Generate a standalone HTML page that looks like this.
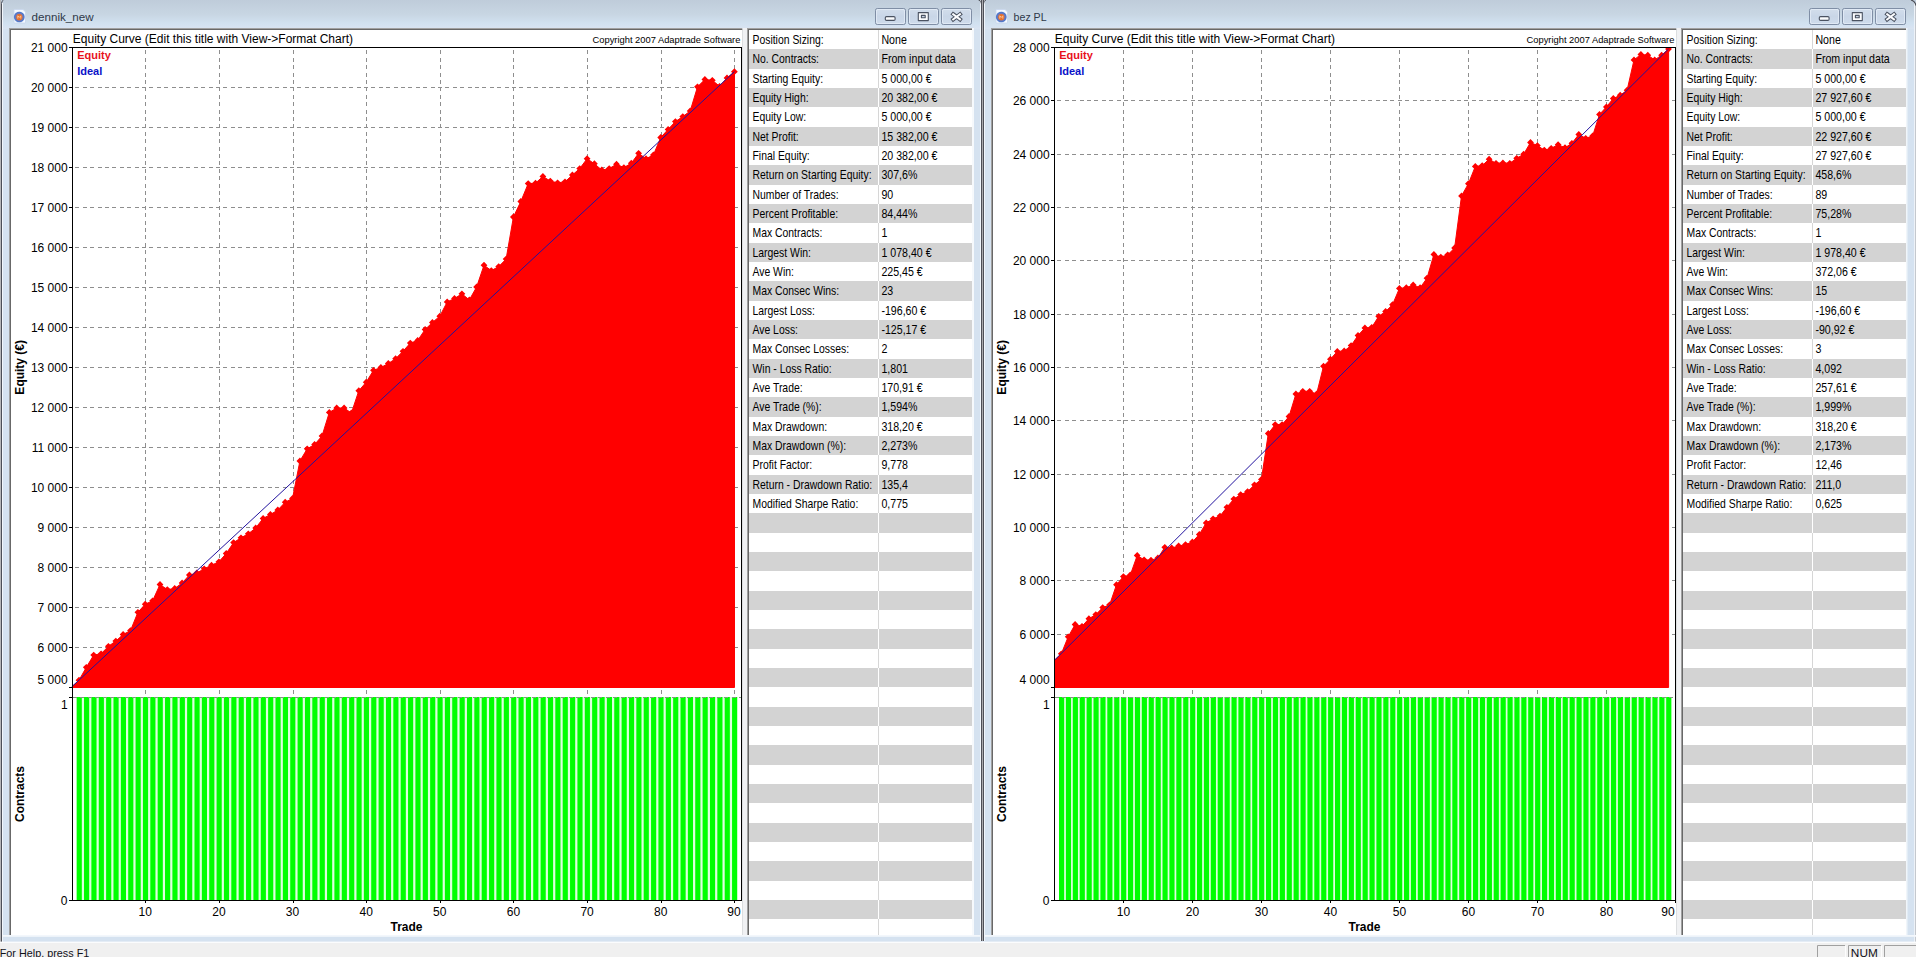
<!DOCTYPE html><html><head><meta charset="utf-8"><title>Equity Curve</title><style>
html,body{margin:0;padding:0;background:#d4e1f0;overflow:hidden}
svg{display:block}
text{font-family:"Liberation Sans",Arial,sans-serif;fill:#000}
.ttl{font-size:11.6px;fill:#2e3848}
.tb text{font-size:12px;fill:#000}
.ct{font-size:12px}.cp{font-size:9.33px}.ax text{font-size:12px}.bd{font-size:12px;font-weight:bold}.lg{font-size:11px;font-weight:bold}
.st{font-size:11.1px;fill:#101018}
</style></head><body>
<svg width="1916" height="957" viewBox="0 0 1916 957">
<defs><linearGradient id="tb" x1="0" y1="0" x2="0" y2="1"><stop offset="0" stop-color="#bfccda"/><stop offset="0.5" stop-color="#c8d6e3"/><stop offset="0.8" stop-color="#d1e1f0"/><stop offset="1" stop-color="#d9e4f2"/></linearGradient><linearGradient id="btn" x1="0" y1="0" x2="0" y2="1"><stop offset="0" stop-color="#d3deec"/><stop offset="0.5" stop-color="#c9d6e7"/><stop offset="1" stop-color="#cfdcec"/></linearGradient><radialGradient id="icg" cx="0.5" cy="0.5" r="0.5"><stop offset="0.5" stop-color="#7a78b8"/><stop offset="0.85" stop-color="#4f78c8"/><stop offset="1" stop-color="#9fb8e8"/></radialGradient></defs>
<rect x="0" y="0" width="1916" height="957" fill="#d5e2f0"/>
<rect x="0" y="0" width="1916" height="29" fill="url(#tb)"/>
<rect x="0" y="0" width="1" height="943" fill="#b6b6b8"/>
<path d="M1.5 943V3.5Q1.5 1 3.5 0" stroke="#4c4f58" stroke-width="1" fill="none"/>
<rect x="2" y="3" width="1" height="939" fill="#f2f6fb"/>
<rect x="980" y="0" width="1" height="941" fill="#f0f5fb"/>
<rect x="981" y="0" width="1" height="941" fill="#4e5058"/>
<rect x="982" y="0" width="1" height="941" fill="#a8a8ac"/>
<rect x="983" y="0" width="1" height="941" fill="#4e5058"/>
<rect x="984" y="0" width="1" height="941" fill="#f0f5fb"/>
<path d="M978.5 0Q981.5 0.5 981.5 4M986 0Q983.5 0.5 983.5 4" stroke="#4e5058" stroke-width="1" fill="none"/>
<rect x="1914" y="3" width="1" height="939" fill="#edf2f8"/><rect x="1915" y="4" width="1" height="938" fill="#c4c8ce"/>
<path d="M1911 0Q1915 1.2 1916 5.5" stroke="#4e5058" stroke-width="1.3" fill="none"/>
<g transform="translate(13,9)"><path d="M1 0.5h9l2.5 2.5v11h-11.5z" fill="#f4f9ff" stroke="#c8d6ec" stroke-width="0.8"/><circle cx="6.3" cy="8" r="5.6" fill="url(#icg)"/><circle cx="6.3" cy="8.2" r="3.1" fill="#e8702a"/><path d="M4.8 9.6v-2.8l1.5 1.6 1.5-1.6v2.8" fill="none" stroke="#f9c9a0" stroke-width="0.9"/></g>
<text x="31.6" y="21" class="ttl" textLength="62" lengthAdjust="spacingAndGlyphs">dennik_new</text>
<rect x="875.5" y="8.5" width="30" height="16" rx="1.8" fill="url(#btn)" stroke="#7f8ea5" stroke-width="1"/>
<rect x="876.5" y="9.5" width="28" height="14" rx="1.5" fill="none" stroke="#e6eef8" stroke-opacity="0.75" stroke-width="1"/>
<rect x="908.5" y="8.5" width="30" height="16" rx="1.8" fill="url(#btn)" stroke="#7f8ea5" stroke-width="1"/>
<rect x="909.5" y="9.5" width="28" height="14" rx="1.5" fill="none" stroke="#e6eef8" stroke-opacity="0.75" stroke-width="1"/>
<rect x="941.5" y="8.5" width="30" height="16" rx="1.8" fill="url(#btn)" stroke="#7f8ea5" stroke-width="1"/>
<rect x="942.5" y="9.5" width="28" height="14" rx="1.5" fill="none" stroke="#e6eef8" stroke-opacity="0.75" stroke-width="1"/>
<rect x="885.3" y="16.6" width="9.8" height="3.8" rx="1.2" fill="#fbfcfe" stroke="#4a5261" stroke-width="1.1"/>
<path d="M918.3 12.6h10v8h-10z M921.4 15.4v2.4h3.8v-2.4z" fill="#fbfcfe" fill-rule="evenodd" stroke="#4a5261" stroke-width="1.1" stroke-linejoin="round"/>
<path d="M953.2 14.200000000000001L960.0 19.400000000000002M960.0 14.200000000000001L953.2 19.400000000000002" stroke="#4a5261" stroke-width="4" stroke-linecap="square" fill="none"/>
<path d="M953.2 14.200000000000001L960.0 19.400000000000002M960.0 14.200000000000001L953.2 19.400000000000002" stroke="#fbfcfe" stroke-width="2" stroke-linecap="square" fill="none"/>
<rect x="9" y="28" width="733.5" height="907" fill="#a0a0a0"/>
<rect x="10" y="29" width="732.5" height="906" fill="#686868"/>
<rect x="11" y="30" width="731.5" height="905" fill="#fff"/>
<rect x="742.5" y="28" width="4.5" height="907" fill="#f0f1f3"/>
<rect x="747" y="28" width="225" height="907" fill="#a0a0a0"/>
<rect x="748" y="29" width="224" height="906" fill="#686868"/>
<rect x="749" y="30" width="223" height="905" fill="#fff"/>
<rect x="972" y="28" width="2" height="908" fill="#f6f9fc"/>
<rect x="749" y="49" width="223" height="20" fill="#d3d3d3"/>
<rect x="749" y="88" width="223" height="19" fill="#d3d3d3"/>
<rect x="749" y="127" width="223" height="19" fill="#d3d3d3"/>
<rect x="749" y="165" width="223" height="20" fill="#d3d3d3"/>
<rect x="749" y="204" width="223" height="19" fill="#d3d3d3"/>
<rect x="749" y="243" width="223" height="19" fill="#d3d3d3"/>
<rect x="749" y="281" width="223" height="20" fill="#d3d3d3"/>
<rect x="749" y="320" width="223" height="19" fill="#d3d3d3"/>
<rect x="749" y="359" width="223" height="19" fill="#d3d3d3"/>
<rect x="749" y="397" width="223" height="20" fill="#d3d3d3"/>
<rect x="749" y="436" width="223" height="19" fill="#d3d3d3"/>
<rect x="749" y="475" width="223" height="19" fill="#d3d3d3"/>
<rect x="749" y="513" width="223" height="20" fill="#d3d3d3"/>
<rect x="749" y="552" width="223" height="19" fill="#d3d3d3"/>
<rect x="749" y="591" width="223" height="19" fill="#d3d3d3"/>
<rect x="749" y="629" width="223" height="20" fill="#d3d3d3"/>
<rect x="749" y="668" width="223" height="19" fill="#d3d3d3"/>
<rect x="749" y="707" width="223" height="19" fill="#d3d3d3"/>
<rect x="749" y="745" width="223" height="20" fill="#d3d3d3"/>
<rect x="749" y="784" width="223" height="19" fill="#d3d3d3"/>
<rect x="749" y="823" width="223" height="19" fill="#d3d3d3"/>
<rect x="749" y="861" width="223" height="20" fill="#d3d3d3"/>
<rect x="749" y="900" width="223" height="19" fill="#d3d3d3"/>
<rect x="878" y="30" width="1" height="905" fill="#d6d6d6"/>
<rect x="878" y="49" width="1" height="20" fill="#ffffff"/>
<rect x="878" y="88" width="1" height="19" fill="#ffffff"/>
<rect x="878" y="127" width="1" height="19" fill="#ffffff"/>
<rect x="878" y="165" width="1" height="20" fill="#ffffff"/>
<rect x="878" y="204" width="1" height="19" fill="#ffffff"/>
<rect x="878" y="243" width="1" height="19" fill="#ffffff"/>
<rect x="878" y="281" width="1" height="20" fill="#ffffff"/>
<rect x="878" y="320" width="1" height="19" fill="#ffffff"/>
<rect x="878" y="359" width="1" height="19" fill="#ffffff"/>
<rect x="878" y="397" width="1" height="20" fill="#ffffff"/>
<rect x="878" y="436" width="1" height="19" fill="#ffffff"/>
<rect x="878" y="475" width="1" height="19" fill="#ffffff"/>
<rect x="878" y="513" width="1" height="20" fill="#ffffff"/>
<rect x="878" y="552" width="1" height="19" fill="#ffffff"/>
<rect x="878" y="591" width="1" height="19" fill="#ffffff"/>
<rect x="878" y="629" width="1" height="20" fill="#ffffff"/>
<rect x="878" y="668" width="1" height="19" fill="#ffffff"/>
<rect x="878" y="707" width="1" height="19" fill="#ffffff"/>
<rect x="878" y="745" width="1" height="20" fill="#ffffff"/>
<rect x="878" y="784" width="1" height="19" fill="#ffffff"/>
<rect x="878" y="823" width="1" height="19" fill="#ffffff"/>
<rect x="878" y="861" width="1" height="20" fill="#ffffff"/>
<rect x="878" y="900" width="1" height="19" fill="#ffffff"/>
<g class="tb">
<text transform="translate(752.5,44.0) scale(0.868,1)">Position Sizing:</text>
<text transform="translate(881.4,44.0) scale(0.885,1)">None</text>
<text transform="translate(752.5,63.3) scale(0.868,1)">No. Contracts:</text>
<text transform="translate(881.4,63.3) scale(0.885,1)">From input data</text>
<text transform="translate(752.5,82.7) scale(0.868,1)">Starting Equity:</text>
<text transform="translate(881.4,82.7) scale(0.885,1)">5 000,00 €</text>
<text transform="translate(752.5,102.0) scale(0.868,1)">Equity High:</text>
<text transform="translate(881.4,102.0) scale(0.885,1)">20 382,00 €</text>
<text transform="translate(752.5,121.3) scale(0.868,1)">Equity Low:</text>
<text transform="translate(881.4,121.3) scale(0.885,1)">5 000,00 €</text>
<text transform="translate(752.5,140.7) scale(0.868,1)">Net Profit:</text>
<text transform="translate(881.4,140.7) scale(0.885,1)">15 382,00 €</text>
<text transform="translate(752.5,160.0) scale(0.868,1)">Final Equity:</text>
<text transform="translate(881.4,160.0) scale(0.885,1)">20 382,00 €</text>
<text transform="translate(752.5,179.3) scale(0.868,1)">Return on Starting Equity:</text>
<text transform="translate(881.4,179.3) scale(0.885,1)">307,6%</text>
<text transform="translate(752.5,198.7) scale(0.868,1)">Number of Trades:</text>
<text transform="translate(881.4,198.7) scale(0.885,1)">90</text>
<text transform="translate(752.5,218.0) scale(0.868,1)">Percent Profitable:</text>
<text transform="translate(881.4,218.0) scale(0.885,1)">84,44%</text>
<text transform="translate(752.5,237.3) scale(0.868,1)">Max Contracts:</text>
<text transform="translate(881.4,237.3) scale(0.885,1)">1</text>
<text transform="translate(752.5,256.7) scale(0.868,1)">Largest Win:</text>
<text transform="translate(881.4,256.7) scale(0.885,1)">1 078,40 €</text>
<text transform="translate(752.5,276.0) scale(0.868,1)">Ave Win:</text>
<text transform="translate(881.4,276.0) scale(0.885,1)">225,45 €</text>
<text transform="translate(752.5,295.3) scale(0.868,1)">Max Consec Wins:</text>
<text transform="translate(881.4,295.3) scale(0.885,1)">23</text>
<text transform="translate(752.5,314.7) scale(0.868,1)">Largest Loss:</text>
<text transform="translate(881.4,314.7) scale(0.885,1)">-196,60 €</text>
<text transform="translate(752.5,334.0) scale(0.868,1)">Ave Loss:</text>
<text transform="translate(881.4,334.0) scale(0.885,1)">-125,17 €</text>
<text transform="translate(752.5,353.3) scale(0.868,1)">Max Consec Losses:</text>
<text transform="translate(881.4,353.3) scale(0.885,1)">2</text>
<text transform="translate(752.5,372.7) scale(0.868,1)">Win - Loss Ratio:</text>
<text transform="translate(881.4,372.7) scale(0.885,1)">1,801</text>
<text transform="translate(752.5,392.0) scale(0.868,1)">Ave Trade:</text>
<text transform="translate(881.4,392.0) scale(0.885,1)">170,91 €</text>
<text transform="translate(752.5,411.3) scale(0.868,1)">Ave Trade (%):</text>
<text transform="translate(881.4,411.3) scale(0.885,1)">1,594%</text>
<text transform="translate(752.5,430.7) scale(0.868,1)">Max Drawdown:</text>
<text transform="translate(881.4,430.7) scale(0.885,1)">318,20 €</text>
<text transform="translate(752.5,450.0) scale(0.868,1)">Max Drawdown (%):</text>
<text transform="translate(881.4,450.0) scale(0.885,1)">2,273%</text>
<text transform="translate(752.5,469.3) scale(0.868,1)">Profit Factor:</text>
<text transform="translate(881.4,469.3) scale(0.885,1)">9,778</text>
<text transform="translate(752.5,488.7) scale(0.868,1)">Return - Drawdown Ratio:</text>
<text transform="translate(881.4,488.7) scale(0.885,1)">135,4</text>
<text transform="translate(752.5,508.0) scale(0.868,1)">Modified Sharpe Ratio:</text>
<text transform="translate(881.4,508.0) scale(0.885,1)">0,775</text>
</g>
<text x="72.8" y="42.7" class="ct">Equity Curve (Edit this title with View-&gt;Format Chart)</text>
<text x="740.4" y="43" class="cp" text-anchor="end">Copyright 2007 Adaptrade Software</text>
<path d="M73 87.5H741 M73 127.5H741 M73 167.5H741 M73 207.5H741 M73 247.5H741 M73 287.5H741 M73 327.5H741 M73 367.5H741 M73 407.5H741 M73 447.5H741 M73 487.5H741 M73 527.5H741 M73 567.5H741 M73 607.5H741 M73 647.5H741 M145.5 48V687 M145.5 688V697 M219.5 48V687 M219.5 688V697 M293.5 48V687 M293.5 688V697 M366.5 48V687 M366.5 688V697 M440.5 48V687 M440.5 688V697 M513.5 48V687 M513.5 688V697 M587.5 48V687 M587.5 688V697 M661.5 48V687 M661.5 688V697 M734.5 48V687 M734.5 688V697" stroke="#8e8e8e" stroke-width="1" stroke-dasharray="4 3.4" stroke-dashoffset="5" fill="none" shape-rendering="crispEdges"/>
<path d="M76.66 697h5.15V900h-5.15zM84.03 697h5.15V900h-5.15zM91.39 697h5.15V900h-5.15zM98.76 697h5.15V900h-5.15zM106.12 697h5.15V900h-5.15zM113.48 697h5.15V900h-5.15zM120.85 697h5.15V900h-5.15zM128.21 697h5.15V900h-5.15zM135.58 697h5.15V900h-5.15zM142.94 697h5.15V900h-5.15zM150.30 697h5.15V900h-5.15zM157.67 697h5.15V900h-5.15zM165.03 697h5.15V900h-5.15zM172.40 697h5.15V900h-5.15zM179.76 697h5.15V900h-5.15zM187.12 697h5.15V900h-5.15zM194.49 697h5.15V900h-5.15zM201.85 697h5.15V900h-5.15zM209.22 697h5.15V900h-5.15zM216.58 697h5.15V900h-5.15zM223.94 697h5.15V900h-5.15zM231.31 697h5.15V900h-5.15zM238.67 697h5.15V900h-5.15zM246.04 697h5.15V900h-5.15zM253.40 697h5.15V900h-5.15zM260.76 697h5.15V900h-5.15zM268.13 697h5.15V900h-5.15zM275.49 697h5.15V900h-5.15zM282.86 697h5.15V900h-5.15zM290.22 697h5.15V900h-5.15zM297.58 697h5.15V900h-5.15zM304.95 697h5.15V900h-5.15zM312.31 697h5.15V900h-5.15zM319.68 697h5.15V900h-5.15zM327.04 697h5.15V900h-5.15zM334.40 697h5.15V900h-5.15zM341.77 697h5.15V900h-5.15zM349.13 697h5.15V900h-5.15zM356.50 697h5.15V900h-5.15zM363.86 697h5.15V900h-5.15zM371.22 697h5.15V900h-5.15zM378.59 697h5.15V900h-5.15zM385.95 697h5.15V900h-5.15zM393.32 697h5.15V900h-5.15zM400.68 697h5.15V900h-5.15zM408.04 697h5.15V900h-5.15zM415.41 697h5.15V900h-5.15zM422.77 697h5.15V900h-5.15zM430.14 697h5.15V900h-5.15zM437.50 697h5.15V900h-5.15zM444.86 697h5.15V900h-5.15zM452.23 697h5.15V900h-5.15zM459.59 697h5.15V900h-5.15zM466.96 697h5.15V900h-5.15zM474.32 697h5.15V900h-5.15zM481.68 697h5.15V900h-5.15zM489.05 697h5.15V900h-5.15zM496.41 697h5.15V900h-5.15zM503.78 697h5.15V900h-5.15zM511.14 697h5.15V900h-5.15zM518.50 697h5.15V900h-5.15zM525.87 697h5.15V900h-5.15zM533.23 697h5.15V900h-5.15zM540.60 697h5.15V900h-5.15zM547.96 697h5.15V900h-5.15zM555.32 697h5.15V900h-5.15zM562.69 697h5.15V900h-5.15zM570.05 697h5.15V900h-5.15zM577.42 697h5.15V900h-5.15zM584.78 697h5.15V900h-5.15zM592.14 697h5.15V900h-5.15zM599.51 697h5.15V900h-5.15zM606.87 697h5.15V900h-5.15zM614.24 697h5.15V900h-5.15zM621.60 697h5.15V900h-5.15zM628.96 697h5.15V900h-5.15zM636.33 697h5.15V900h-5.15zM643.69 697h5.15V900h-5.15zM651.06 697h5.15V900h-5.15zM658.42 697h5.15V900h-5.15zM665.78 697h5.15V900h-5.15zM673.15 697h5.15V900h-5.15zM680.51 697h5.15V900h-5.15zM687.88 697h5.15V900h-5.15zM695.24 697h5.15V900h-5.15zM702.60 697h5.15V900h-5.15zM709.97 697h5.15V900h-5.15zM717.33 697h5.15V900h-5.15zM724.70 697h5.15V900h-5.15zM732.06 697h5.15V900h-5.15z" fill="#00ff00"/>
<rect x="76.76" y="697" width="660.40" height="203" fill="#00ff00" opacity="0.13"/>
<path d="M73 697.5H741" stroke="#7f9a7f" stroke-width="1" stroke-dasharray="4 3.4" fill="none" shape-rendering="crispEdges"/>
<clipPath id="cp72"><rect x="73" y="48" width="668" height="640"/></clipPath><g clip-path="url(#cp72)">
<path d="M71.6 687.0 L79.0 680.2 L86.3 667.3 L93.7 655.1 L101.1 653.8 L108.4 646.3 L115.8 641.1 L123.1 634.5 L130.5 630.6 L137.9 612.3 L145.2 604.2 L152.6 600.8 L160.0 584.5 L167.3 589.6 L174.7 588.5 L182.1 583.0 L189.4 575.0 L196.8 573.0 L204.2 568.8 L211.5 565.2 L218.9 561.8 L226.2 553.5 L233.6 542.6 L241.0 537.8 L248.3 533.8 L255.7 528.0 L263.1 518.4 L270.4 514.5 L277.8 510.0 L285.2 502.2 L292.5 498.4 L299.9 461.0 L307.2 448.8 L314.6 444.5 L322.0 436.0 L329.3 412.4 L336.7 408.0 L344.1 408.0 L351.4 413.0 L358.8 390.7 L366.2 382.2 L373.5 370.3 L380.9 367.5 L388.3 363.5 L395.6 358.7 L403.0 351.2 L410.3 343.1 L417.7 340.4 L425.1 329.5 L432.4 322.5 L439.8 316.2 L447.2 301.9 L454.5 298.5 L461.9 293.8 L469.3 299.9 L476.6 287.0 L484.0 265.2 L491.3 270.6 L498.7 266.6 L506.1 259.1 L513.4 217.0 L520.8 201.5 L528.2 183.6 L535.5 183.2 L542.9 176.4 L550.3 181.1 L557.6 182.8 L565.0 181.8 L572.4 175.0 L579.7 168.6 L587.1 158.7 L594.4 163.8 L601.8 170.0 L609.2 168.6 L616.5 164.2 L623.9 167.6 L631.3 163.2 L638.6 153.3 L646.0 158.7 L653.4 155.0 L660.7 137.5 L668.1 129.4 L675.4 121.6 L682.8 116.6 L690.2 111.0 L697.5 86.8 L704.9 79.5 L712.3 80.3 L719.6 86.3 L727.0 77.9 L734.4 71.7 L734.5 71.7 L734.5 687.5 L71.6 687.5z" fill="#ff0000" stroke="#ff0000" stroke-width="1" stroke-linejoin="round"/>
<path d="M79.0 676.8l3.4 3.4-3.4 3.4-3.4-3.4zM86.3 663.9l3.4 3.4-3.4 3.4-3.4-3.4zM93.7 651.7l3.4 3.4-3.4 3.4-3.4-3.4zM101.1 650.4l3.4 3.4-3.4 3.4-3.4-3.4zM108.4 642.9l3.4 3.4-3.4 3.4-3.4-3.4zM115.8 637.7l3.4 3.4-3.4 3.4-3.4-3.4zM123.1 631.1l3.4 3.4-3.4 3.4-3.4-3.4zM130.5 627.2l3.4 3.4-3.4 3.4-3.4-3.4zM137.9 608.9l3.4 3.4-3.4 3.4-3.4-3.4zM145.2 600.8l3.4 3.4-3.4 3.4-3.4-3.4zM152.6 597.4l3.4 3.4-3.4 3.4-3.4-3.4zM160.0 581.1l3.4 3.4-3.4 3.4-3.4-3.4zM167.3 586.2l3.4 3.4-3.4 3.4-3.4-3.4zM174.7 585.1l3.4 3.4-3.4 3.4-3.4-3.4zM182.1 579.6l3.4 3.4-3.4 3.4-3.4-3.4zM189.4 571.6l3.4 3.4-3.4 3.4-3.4-3.4zM196.8 569.6l3.4 3.4-3.4 3.4-3.4-3.4zM204.2 565.4l3.4 3.4-3.4 3.4-3.4-3.4zM211.5 561.8l3.4 3.4-3.4 3.4-3.4-3.4zM218.9 558.4l3.4 3.4-3.4 3.4-3.4-3.4zM226.2 550.1l3.4 3.4-3.4 3.4-3.4-3.4zM233.6 539.2l3.4 3.4-3.4 3.4-3.4-3.4zM241.0 534.4l3.4 3.4-3.4 3.4-3.4-3.4zM248.3 530.4l3.4 3.4-3.4 3.4-3.4-3.4zM255.7 524.6l3.4 3.4-3.4 3.4-3.4-3.4zM263.1 515.0l3.4 3.4-3.4 3.4-3.4-3.4zM270.4 511.1l3.4 3.4-3.4 3.4-3.4-3.4zM277.8 506.6l3.4 3.4-3.4 3.4-3.4-3.4zM285.2 498.8l3.4 3.4-3.4 3.4-3.4-3.4zM292.5 495.0l3.4 3.4-3.4 3.4-3.4-3.4zM299.9 457.6l3.4 3.4-3.4 3.4-3.4-3.4zM307.2 445.4l3.4 3.4-3.4 3.4-3.4-3.4zM314.6 441.1l3.4 3.4-3.4 3.4-3.4-3.4zM322.0 432.6l3.4 3.4-3.4 3.4-3.4-3.4zM329.3 409.0l3.4 3.4-3.4 3.4-3.4-3.4zM336.7 404.6l3.4 3.4-3.4 3.4-3.4-3.4zM344.1 404.6l3.4 3.4-3.4 3.4-3.4-3.4zM351.4 409.6l3.4 3.4-3.4 3.4-3.4-3.4zM358.8 387.3l3.4 3.4-3.4 3.4-3.4-3.4zM366.2 378.8l3.4 3.4-3.4 3.4-3.4-3.4zM373.5 366.9l3.4 3.4-3.4 3.4-3.4-3.4zM380.9 364.1l3.4 3.4-3.4 3.4-3.4-3.4zM388.3 360.1l3.4 3.4-3.4 3.4-3.4-3.4zM395.6 355.3l3.4 3.4-3.4 3.4-3.4-3.4zM403.0 347.9l3.4 3.4-3.4 3.4-3.4-3.4zM410.3 339.7l3.4 3.4-3.4 3.4-3.4-3.4zM417.7 337.0l3.4 3.4-3.4 3.4-3.4-3.4zM425.1 326.1l3.4 3.4-3.4 3.4-3.4-3.4zM432.4 319.1l3.4 3.4-3.4 3.4-3.4-3.4zM439.8 312.8l3.4 3.4-3.4 3.4-3.4-3.4zM447.2 298.5l3.4 3.4-3.4 3.4-3.4-3.4zM454.5 295.1l3.4 3.4-3.4 3.4-3.4-3.4zM461.9 290.4l3.4 3.4-3.4 3.4-3.4-3.4zM469.3 296.5l3.4 3.4-3.4 3.4-3.4-3.4zM476.6 283.6l3.4 3.4-3.4 3.4-3.4-3.4zM484.0 261.8l3.4 3.4-3.4 3.4-3.4-3.4zM491.3 267.2l3.4 3.4-3.4 3.4-3.4-3.4zM498.7 263.2l3.4 3.4-3.4 3.4-3.4-3.4zM506.1 255.7l3.4 3.4-3.4 3.4-3.4-3.4zM513.4 213.6l3.4 3.4-3.4 3.4-3.4-3.4zM520.8 198.1l3.4 3.4-3.4 3.4-3.4-3.4zM528.2 180.2l3.4 3.4-3.4 3.4-3.4-3.4zM535.5 179.8l3.4 3.4-3.4 3.4-3.4-3.4zM542.9 173.0l3.4 3.4-3.4 3.4-3.4-3.4zM550.3 177.7l3.4 3.4-3.4 3.4-3.4-3.4zM557.6 179.4l3.4 3.4-3.4 3.4-3.4-3.4zM565.0 178.4l3.4 3.4-3.4 3.4-3.4-3.4zM572.4 171.6l3.4 3.4-3.4 3.4-3.4-3.4zM579.7 165.2l3.4 3.4-3.4 3.4-3.4-3.4zM587.1 155.3l3.4 3.4-3.4 3.4-3.4-3.4zM594.4 160.3l3.4 3.4-3.4 3.4-3.4-3.4zM601.8 166.6l3.4 3.4-3.4 3.4-3.4-3.4zM609.2 165.2l3.4 3.4-3.4 3.4-3.4-3.4zM616.5 160.8l3.4 3.4-3.4 3.4-3.4-3.4zM623.9 164.2l3.4 3.4-3.4 3.4-3.4-3.4zM631.3 159.8l3.4 3.4-3.4 3.4-3.4-3.4zM638.6 149.9l3.4 3.4-3.4 3.4-3.4-3.4zM646.0 155.3l3.4 3.4-3.4 3.4-3.4-3.4zM653.4 151.6l3.4 3.4-3.4 3.4-3.4-3.4zM660.7 134.1l3.4 3.4-3.4 3.4-3.4-3.4zM668.1 126.0l3.4 3.4-3.4 3.4-3.4-3.4zM675.4 118.2l3.4 3.4-3.4 3.4-3.4-3.4zM682.8 113.2l3.4 3.4-3.4 3.4-3.4-3.4zM690.2 107.6l3.4 3.4-3.4 3.4-3.4-3.4zM697.5 83.4l3.4 3.4-3.4 3.4-3.4-3.4zM704.9 76.1l3.4 3.4-3.4 3.4-3.4-3.4zM712.3 76.9l3.4 3.4-3.4 3.4-3.4-3.4zM719.6 82.9l3.4 3.4-3.4 3.4-3.4-3.4zM727.0 74.5l3.4 3.4-3.4 3.4-3.4-3.4zM734.4 68.3l3.4 3.4-3.4 3.4-3.4-3.4z" fill="#ff0000"/>
</g>
<path d="M71.6 687.0L734.4 71.7" stroke="#22129e" stroke-width="1" fill="none"/>
<path d="M72.5 47V901 M69 47.5H742 M741.5 47V901 M69 900.5H742 M69 47.5H72 M69 87.5H72 M69 127.5H72 M69 167.5H72 M69 207.5H72 M69 247.5H72 M69 287.5H72 M69 327.5H72 M69 367.5H72 M69 407.5H72 M69 447.5H72 M69 487.5H72 M69 527.5H72 M69 567.5H72 M69 607.5H72 M69 647.5H72 M69 687.5H72 M69 697.5H72 M145.5 900V903 M219.5 900V903 M293.5 900V903 M366.5 900V903 M440.5 900V903 M513.5 900V903 M587.5 900V903 M661.5 900V903 M734.5 900V903" stroke="#000" stroke-width="1" fill="none" shape-rendering="crispEdges"/>
<g class="ax" text-anchor="end">
<text x="67.6" y="51.6">21 000</text>
<text x="67.6" y="91.6">20 000</text>
<text x="67.6" y="131.6">19 000</text>
<text x="67.6" y="171.6">18 000</text>
<text x="67.6" y="211.6">17 000</text>
<text x="67.6" y="251.6">16 000</text>
<text x="67.6" y="291.6">15 000</text>
<text x="67.6" y="331.6">14 000</text>
<text x="67.6" y="371.6">13 000</text>
<text x="67.6" y="411.6">12 000</text>
<text x="67.6" y="451.6">11 000</text>
<text x="67.6" y="491.6">10 000</text>
<text x="67.6" y="531.6">9 000</text>
<text x="67.6" y="571.6">8 000</text>
<text x="67.6" y="611.6">7 000</text>
<text x="67.6" y="651.6">6 000</text>
<text x="67.6" y="684.4">5 000</text>
<text x="67.7" y="709.3">1</text>
<text x="67.4" y="905.3">0</text>
</g>
<g class="ax" text-anchor="middle">
<text x="145.2" y="916">10</text>
<text x="218.9" y="916">20</text>
<text x="292.5" y="916">30</text>
<text x="366.2" y="916">40</text>
<text x="439.8" y="916">50</text>
<text x="513.4" y="916">60</text>
<text x="587.1" y="916">70</text>
<text x="660.7" y="916">80</text>
<text x="734.0" y="916">90</text>
</g>
<text x="77.2" y="59.1" class="lg" style="fill:#e8101c">Equity</text>
<text x="77.2" y="75.3" class="lg" style="fill:#0a12c8">Ideal</text>
<text x="406.5" y="930.6" class="bd" text-anchor="middle">Trade</text>
<text transform="translate(23.8,367.3) rotate(-90)" class="bd" text-anchor="middle">Equity (€)</text>
<text transform="translate(23.8,794) rotate(-90)" class="bd" text-anchor="middle">Contracts</text>
<g transform="translate(995,9)"><path d="M1 0.5h9l2.5 2.5v11h-11.5z" fill="#f4f9ff" stroke="#c8d6ec" stroke-width="0.8"/><circle cx="6.3" cy="8" r="5.6" fill="url(#icg)"/><circle cx="6.3" cy="8.2" r="3.1" fill="#e8702a"/><path d="M4.8 9.6v-2.8l1.5 1.6 1.5-1.6v2.8" fill="none" stroke="#f9c9a0" stroke-width="0.9"/></g>
<text x="1013.6" y="21" class="ttl" textLength="33" lengthAdjust="spacingAndGlyphs">bez PL</text>
<rect x="1809.5" y="8.5" width="30" height="16" rx="1.8" fill="url(#btn)" stroke="#7f8ea5" stroke-width="1"/>
<rect x="1810.5" y="9.5" width="28" height="14" rx="1.5" fill="none" stroke="#e6eef8" stroke-opacity="0.75" stroke-width="1"/>
<rect x="1842.5" y="8.5" width="30" height="16" rx="1.8" fill="url(#btn)" stroke="#7f8ea5" stroke-width="1"/>
<rect x="1843.5" y="9.5" width="28" height="14" rx="1.5" fill="none" stroke="#e6eef8" stroke-opacity="0.75" stroke-width="1"/>
<rect x="1875.5" y="8.5" width="30" height="16" rx="1.8" fill="url(#btn)" stroke="#7f8ea5" stroke-width="1"/>
<rect x="1876.5" y="9.5" width="28" height="14" rx="1.5" fill="none" stroke="#e6eef8" stroke-opacity="0.75" stroke-width="1"/>
<rect x="1819.3" y="16.6" width="9.8" height="3.8" rx="1.2" fill="#fbfcfe" stroke="#4a5261" stroke-width="1.1"/>
<path d="M1852.3 12.6h10v8h-10z M1855.4 15.4v2.4h3.8v-2.4z" fill="#fbfcfe" fill-rule="evenodd" stroke="#4a5261" stroke-width="1.1" stroke-linejoin="round"/>
<path d="M1887.1999999999998 14.200000000000001L1894.0 19.400000000000002M1894.0 14.200000000000001L1887.1999999999998 19.400000000000002" stroke="#4a5261" stroke-width="4" stroke-linecap="square" fill="none"/>
<path d="M1887.1999999999998 14.200000000000001L1894.0 19.400000000000002M1894.0 14.200000000000001L1887.1999999999998 19.400000000000002" stroke="#fbfcfe" stroke-width="2" stroke-linecap="square" fill="none"/>
<rect x="991" y="28" width="685.5" height="907" fill="#a0a0a0"/>
<rect x="992" y="29" width="684.5" height="906" fill="#686868"/>
<rect x="993" y="30" width="683.5" height="905" fill="#fff"/>
<rect x="1676.5" y="28" width="4.5" height="907" fill="#f0f1f3"/>
<rect x="1681" y="28" width="225" height="907" fill="#a0a0a0"/>
<rect x="1682" y="29" width="224" height="906" fill="#686868"/>
<rect x="1683" y="30" width="223" height="905" fill="#fff"/>
<rect x="1906" y="28" width="1.5" height="908" fill="#f0f5fa"/>
<rect x="1683" y="49" width="223" height="20" fill="#d3d3d3"/>
<rect x="1683" y="88" width="223" height="19" fill="#d3d3d3"/>
<rect x="1683" y="127" width="223" height="19" fill="#d3d3d3"/>
<rect x="1683" y="165" width="223" height="20" fill="#d3d3d3"/>
<rect x="1683" y="204" width="223" height="19" fill="#d3d3d3"/>
<rect x="1683" y="243" width="223" height="19" fill="#d3d3d3"/>
<rect x="1683" y="281" width="223" height="20" fill="#d3d3d3"/>
<rect x="1683" y="320" width="223" height="19" fill="#d3d3d3"/>
<rect x="1683" y="359" width="223" height="19" fill="#d3d3d3"/>
<rect x="1683" y="397" width="223" height="20" fill="#d3d3d3"/>
<rect x="1683" y="436" width="223" height="19" fill="#d3d3d3"/>
<rect x="1683" y="475" width="223" height="19" fill="#d3d3d3"/>
<rect x="1683" y="513" width="223" height="20" fill="#d3d3d3"/>
<rect x="1683" y="552" width="223" height="19" fill="#d3d3d3"/>
<rect x="1683" y="591" width="223" height="19" fill="#d3d3d3"/>
<rect x="1683" y="629" width="223" height="20" fill="#d3d3d3"/>
<rect x="1683" y="668" width="223" height="19" fill="#d3d3d3"/>
<rect x="1683" y="707" width="223" height="19" fill="#d3d3d3"/>
<rect x="1683" y="745" width="223" height="20" fill="#d3d3d3"/>
<rect x="1683" y="784" width="223" height="19" fill="#d3d3d3"/>
<rect x="1683" y="823" width="223" height="19" fill="#d3d3d3"/>
<rect x="1683" y="861" width="223" height="20" fill="#d3d3d3"/>
<rect x="1683" y="900" width="223" height="19" fill="#d3d3d3"/>
<rect x="1812" y="30" width="1" height="905" fill="#d6d6d6"/>
<rect x="1812" y="49" width="1" height="20" fill="#ffffff"/>
<rect x="1812" y="88" width="1" height="19" fill="#ffffff"/>
<rect x="1812" y="127" width="1" height="19" fill="#ffffff"/>
<rect x="1812" y="165" width="1" height="20" fill="#ffffff"/>
<rect x="1812" y="204" width="1" height="19" fill="#ffffff"/>
<rect x="1812" y="243" width="1" height="19" fill="#ffffff"/>
<rect x="1812" y="281" width="1" height="20" fill="#ffffff"/>
<rect x="1812" y="320" width="1" height="19" fill="#ffffff"/>
<rect x="1812" y="359" width="1" height="19" fill="#ffffff"/>
<rect x="1812" y="397" width="1" height="20" fill="#ffffff"/>
<rect x="1812" y="436" width="1" height="19" fill="#ffffff"/>
<rect x="1812" y="475" width="1" height="19" fill="#ffffff"/>
<rect x="1812" y="513" width="1" height="20" fill="#ffffff"/>
<rect x="1812" y="552" width="1" height="19" fill="#ffffff"/>
<rect x="1812" y="591" width="1" height="19" fill="#ffffff"/>
<rect x="1812" y="629" width="1" height="20" fill="#ffffff"/>
<rect x="1812" y="668" width="1" height="19" fill="#ffffff"/>
<rect x="1812" y="707" width="1" height="19" fill="#ffffff"/>
<rect x="1812" y="745" width="1" height="20" fill="#ffffff"/>
<rect x="1812" y="784" width="1" height="19" fill="#ffffff"/>
<rect x="1812" y="823" width="1" height="19" fill="#ffffff"/>
<rect x="1812" y="861" width="1" height="20" fill="#ffffff"/>
<rect x="1812" y="900" width="1" height="19" fill="#ffffff"/>
<g class="tb">
<text transform="translate(1686.5,44.0) scale(0.868,1)">Position Sizing:</text>
<text transform="translate(1815.4,44.0) scale(0.885,1)">None</text>
<text transform="translate(1686.5,63.3) scale(0.868,1)">No. Contracts:</text>
<text transform="translate(1815.4,63.3) scale(0.885,1)">From input data</text>
<text transform="translate(1686.5,82.7) scale(0.868,1)">Starting Equity:</text>
<text transform="translate(1815.4,82.7) scale(0.885,1)">5 000,00 €</text>
<text transform="translate(1686.5,102.0) scale(0.868,1)">Equity High:</text>
<text transform="translate(1815.4,102.0) scale(0.885,1)">27 927,60 €</text>
<text transform="translate(1686.5,121.3) scale(0.868,1)">Equity Low:</text>
<text transform="translate(1815.4,121.3) scale(0.885,1)">5 000,00 €</text>
<text transform="translate(1686.5,140.7) scale(0.868,1)">Net Profit:</text>
<text transform="translate(1815.4,140.7) scale(0.885,1)">22 927,60 €</text>
<text transform="translate(1686.5,160.0) scale(0.868,1)">Final Equity:</text>
<text transform="translate(1815.4,160.0) scale(0.885,1)">27 927,60 €</text>
<text transform="translate(1686.5,179.3) scale(0.868,1)">Return on Starting Equity:</text>
<text transform="translate(1815.4,179.3) scale(0.885,1)">458,6%</text>
<text transform="translate(1686.5,198.7) scale(0.868,1)">Number of Trades:</text>
<text transform="translate(1815.4,198.7) scale(0.885,1)">89</text>
<text transform="translate(1686.5,218.0) scale(0.868,1)">Percent Profitable:</text>
<text transform="translate(1815.4,218.0) scale(0.885,1)">75,28%</text>
<text transform="translate(1686.5,237.3) scale(0.868,1)">Max Contracts:</text>
<text transform="translate(1815.4,237.3) scale(0.885,1)">1</text>
<text transform="translate(1686.5,256.7) scale(0.868,1)">Largest Win:</text>
<text transform="translate(1815.4,256.7) scale(0.885,1)">1 978,40 €</text>
<text transform="translate(1686.5,276.0) scale(0.868,1)">Ave Win:</text>
<text transform="translate(1815.4,276.0) scale(0.885,1)">372,06 €</text>
<text transform="translate(1686.5,295.3) scale(0.868,1)">Max Consec Wins:</text>
<text transform="translate(1815.4,295.3) scale(0.885,1)">15</text>
<text transform="translate(1686.5,314.7) scale(0.868,1)">Largest Loss:</text>
<text transform="translate(1815.4,314.7) scale(0.885,1)">-196,60 €</text>
<text transform="translate(1686.5,334.0) scale(0.868,1)">Ave Loss:</text>
<text transform="translate(1815.4,334.0) scale(0.885,1)">-90,92 €</text>
<text transform="translate(1686.5,353.3) scale(0.868,1)">Max Consec Losses:</text>
<text transform="translate(1815.4,353.3) scale(0.885,1)">3</text>
<text transform="translate(1686.5,372.7) scale(0.868,1)">Win - Loss Ratio:</text>
<text transform="translate(1815.4,372.7) scale(0.885,1)">4,092</text>
<text transform="translate(1686.5,392.0) scale(0.868,1)">Ave Trade:</text>
<text transform="translate(1815.4,392.0) scale(0.885,1)">257,61 €</text>
<text transform="translate(1686.5,411.3) scale(0.868,1)">Ave Trade (%):</text>
<text transform="translate(1815.4,411.3) scale(0.885,1)">1,999%</text>
<text transform="translate(1686.5,430.7) scale(0.868,1)">Max Drawdown:</text>
<text transform="translate(1815.4,430.7) scale(0.885,1)">318,20 €</text>
<text transform="translate(1686.5,450.0) scale(0.868,1)">Max Drawdown (%):</text>
<text transform="translate(1815.4,450.0) scale(0.885,1)">2,173%</text>
<text transform="translate(1686.5,469.3) scale(0.868,1)">Profit Factor:</text>
<text transform="translate(1815.4,469.3) scale(0.885,1)">12,46</text>
<text transform="translate(1686.5,488.7) scale(0.868,1)">Return - Drawdown Ratio:</text>
<text transform="translate(1815.4,488.7) scale(0.885,1)">211,0</text>
<text transform="translate(1686.5,508.0) scale(0.868,1)">Modified Sharpe Ratio:</text>
<text transform="translate(1815.4,508.0) scale(0.885,1)">0,625</text>
</g>
<text x="1054.8" y="42.7" class="ct">Equity Curve (Edit this title with View-&gt;Format Chart)</text>
<text x="1674.4" y="43" class="cp" text-anchor="end">Copyright 2007 Adaptrade Software</text>
<path d="M1055 100.5H1675 M1055 154.5H1675 M1055 207.5H1675 M1055 260.5H1675 M1055 314.5H1675 M1055 367.5H1675 M1055 420.5H1675 M1055 474.5H1675 M1055 527.5H1675 M1055 580.5H1675 M1055 634.5H1675 M1123.5 48V687 M1123.5 688V697 M1192.5 48V687 M1192.5 688V697 M1261.5 48V687 M1261.5 688V697 M1330.5 48V687 M1330.5 688V697 M1399.5 48V687 M1399.5 688V697 M1468.5 48V687 M1468.5 688V697 M1537.5 48V687 M1537.5 688V697 M1606.5 48V687 M1606.5 688V697" stroke="#8e8e8e" stroke-width="1" stroke-dasharray="4 3.4" stroke-dashoffset="5" fill="none" shape-rendering="crispEdges"/>
<path d="M1059.00 697h5.15V900h-5.15zM1065.90 697h5.15V900h-5.15zM1072.80 697h5.15V900h-5.15zM1079.70 697h5.15V900h-5.15zM1086.60 697h5.15V900h-5.15zM1093.50 697h5.15V900h-5.15zM1100.40 697h5.15V900h-5.15zM1107.30 697h5.15V900h-5.15zM1114.20 697h5.15V900h-5.15zM1121.10 697h5.15V900h-5.15zM1128.00 697h5.15V900h-5.15zM1134.90 697h5.15V900h-5.15zM1141.80 697h5.15V900h-5.15zM1148.70 697h5.15V900h-5.15zM1155.60 697h5.15V900h-5.15zM1162.50 697h5.15V900h-5.15zM1169.40 697h5.15V900h-5.15zM1176.30 697h5.15V900h-5.15zM1183.20 697h5.15V900h-5.15zM1190.10 697h5.15V900h-5.15zM1197.00 697h5.15V900h-5.15zM1203.90 697h5.15V900h-5.15zM1210.80 697h5.15V900h-5.15zM1217.70 697h5.15V900h-5.15zM1224.60 697h5.15V900h-5.15zM1231.50 697h5.15V900h-5.15zM1238.40 697h5.15V900h-5.15zM1245.30 697h5.15V900h-5.15zM1252.20 697h5.15V900h-5.15zM1259.10 697h5.15V900h-5.15zM1266.00 697h5.15V900h-5.15zM1272.90 697h5.15V900h-5.15zM1279.80 697h5.15V900h-5.15zM1286.70 697h5.15V900h-5.15zM1293.60 697h5.15V900h-5.15zM1300.50 697h5.15V900h-5.15zM1307.40 697h5.15V900h-5.15zM1314.30 697h5.15V900h-5.15zM1321.20 697h5.15V900h-5.15zM1328.10 697h5.15V900h-5.15zM1335.00 697h5.15V900h-5.15zM1341.90 697h5.15V900h-5.15zM1348.80 697h5.15V900h-5.15zM1355.70 697h5.15V900h-5.15zM1362.60 697h5.15V900h-5.15zM1369.50 697h5.15V900h-5.15zM1376.40 697h5.15V900h-5.15zM1383.30 697h5.15V900h-5.15zM1390.20 697h5.15V900h-5.15zM1397.10 697h5.15V900h-5.15zM1404.00 697h5.15V900h-5.15zM1410.90 697h5.15V900h-5.15zM1417.80 697h5.15V900h-5.15zM1424.70 697h5.15V900h-5.15zM1431.60 697h5.15V900h-5.15zM1438.50 697h5.15V900h-5.15zM1445.40 697h5.15V900h-5.15zM1452.30 697h5.15V900h-5.15zM1459.20 697h5.15V900h-5.15zM1466.10 697h5.15V900h-5.15zM1473.00 697h5.15V900h-5.15zM1479.90 697h5.15V900h-5.15zM1486.80 697h5.15V900h-5.15zM1493.70 697h5.15V900h-5.15zM1500.60 697h5.15V900h-5.15zM1507.50 697h5.15V900h-5.15zM1514.40 697h5.15V900h-5.15zM1521.30 697h5.15V900h-5.15zM1528.20 697h5.15V900h-5.15zM1535.10 697h5.15V900h-5.15zM1542.00 697h5.15V900h-5.15zM1548.90 697h5.15V900h-5.15zM1555.80 697h5.15V900h-5.15zM1562.70 697h5.15V900h-5.15zM1569.60 697h5.15V900h-5.15zM1576.50 697h5.15V900h-5.15zM1583.40 697h5.15V900h-5.15zM1590.30 697h5.15V900h-5.15zM1597.20 697h5.15V900h-5.15zM1604.10 697h5.15V900h-5.15zM1611.00 697h5.15V900h-5.15zM1617.90 697h5.15V900h-5.15zM1624.80 697h5.15V900h-5.15zM1631.70 697h5.15V900h-5.15zM1638.60 697h5.15V900h-5.15zM1645.50 697h5.15V900h-5.15zM1652.40 697h5.15V900h-5.15zM1659.30 697h5.15V900h-5.15zM1666.20 697h5.15V900h-5.15z" fill="#00ff00"/>
<rect x="1059.10" y="697" width="612.20" height="203" fill="#00ff00" opacity="0.13"/>
<path d="M1055 697.5H1675" stroke="#7f9a7f" stroke-width="1" stroke-dasharray="4 3.4" fill="none" shape-rendering="crispEdges"/>
<clipPath id="cp1054"><rect x="1055" y="48" width="620" height="640"/></clipPath><g clip-path="url(#cp1054)">
<path d="M1054.4 660.3 L1061.3 653.8 L1068.2 636.8 L1075.1 624.5 L1082.0 626.3 L1088.9 618.7 L1095.8 614.6 L1102.7 607.6 L1109.6 604.8 L1116.5 584.7 L1123.4 576.6 L1130.3 575.0 L1137.2 555.5 L1144.1 559.8 L1151.0 560.2 L1157.9 558.0 L1164.8 547.3 L1171.7 548.0 L1178.6 546.0 L1185.5 544.6 L1192.4 541.9 L1199.3 534.4 L1206.2 522.9 L1213.1 518.8 L1220.0 516.1 L1226.9 507.2 L1233.8 499.1 L1240.7 494.6 L1247.6 491.6 L1254.5 484.8 L1261.4 479.4 L1268.3 433.5 L1275.2 424.6 L1282.1 424.6 L1289.0 416.5 L1295.9 394.0 L1302.8 391.3 L1309.7 391.3 L1316.6 394.0 L1323.5 366.2 L1330.4 359.2 L1337.3 351.4 L1344.2 351.0 L1351.1 345.6 L1358.0 335.4 L1364.9 328.0 L1371.8 327.3 L1378.7 316.3 L1385.6 311.5 L1392.5 304.7 L1399.4 288.4 L1406.3 287.7 L1413.2 285.0 L1420.1 287.7 L1427.0 278.2 L1433.9 254.4 L1440.8 257.1 L1447.7 254.8 L1454.6 248.0 L1461.5 195.9 L1468.4 183.7 L1475.3 166.4 L1482.2 165.6 L1489.1 159.2 L1496.0 163.3 L1502.9 162.9 L1509.8 163.3 L1516.7 158.3 L1523.6 154.2 L1530.5 142.5 L1537.4 145.6 L1544.3 150.1 L1551.2 148.3 L1558.1 144.7 L1565.0 147.7 L1571.9 143.3 L1578.8 134.4 L1585.7 138.3 L1592.6 136.0 L1599.5 114.4 L1606.4 106.9 L1613.3 98.5 L1620.2 95.2 L1627.1 90.2 L1634.0 59.9 L1640.9 54.4 L1647.8 55.2 L1654.7 59.9 L1661.6 55.2 L1668.5 49.0 L1668.6 49.0 L1668.6 687.5 L1054.4 687.5z" fill="#ff0000" stroke="#ff0000" stroke-width="1" stroke-linejoin="round"/>
<path d="M1061.3 650.4l3.4 3.4-3.4 3.4-3.4-3.4zM1068.2 633.4l3.4 3.4-3.4 3.4-3.4-3.4zM1075.1 621.1l3.4 3.4-3.4 3.4-3.4-3.4zM1082.0 622.9l3.4 3.4-3.4 3.4-3.4-3.4zM1088.9 615.3l3.4 3.4-3.4 3.4-3.4-3.4zM1095.8 611.2l3.4 3.4-3.4 3.4-3.4-3.4zM1102.7 604.2l3.4 3.4-3.4 3.4-3.4-3.4zM1109.6 601.4l3.4 3.4-3.4 3.4-3.4-3.4zM1116.5 581.3l3.4 3.4-3.4 3.4-3.4-3.4zM1123.4 573.2l3.4 3.4-3.4 3.4-3.4-3.4zM1130.3 571.6l3.4 3.4-3.4 3.4-3.4-3.4zM1137.2 552.1l3.4 3.4-3.4 3.4-3.4-3.4zM1144.1 556.4l3.4 3.4-3.4 3.4-3.4-3.4zM1151.0 556.8l3.4 3.4-3.4 3.4-3.4-3.4zM1157.9 554.6l3.4 3.4-3.4 3.4-3.4-3.4zM1164.8 543.9l3.4 3.4-3.4 3.4-3.4-3.4zM1171.7 544.6l3.4 3.4-3.4 3.4-3.4-3.4zM1178.6 542.6l3.4 3.4-3.4 3.4-3.4-3.4zM1185.5 541.2l3.4 3.4-3.4 3.4-3.4-3.4zM1192.4 538.5l3.4 3.4-3.4 3.4-3.4-3.4zM1199.3 531.0l3.4 3.4-3.4 3.4-3.4-3.4zM1206.2 519.5l3.4 3.4-3.4 3.4-3.4-3.4zM1213.1 515.4l3.4 3.4-3.4 3.4-3.4-3.4zM1220.0 512.7l3.4 3.4-3.4 3.4-3.4-3.4zM1226.9 503.9l3.4 3.4-3.4 3.4-3.4-3.4zM1233.8 495.7l3.4 3.4-3.4 3.4-3.4-3.4zM1240.7 491.2l3.4 3.4-3.4 3.4-3.4-3.4zM1247.6 488.2l3.4 3.4-3.4 3.4-3.4-3.4zM1254.5 481.4l3.4 3.4-3.4 3.4-3.4-3.4zM1261.4 476.0l3.4 3.4-3.4 3.4-3.4-3.4zM1268.3 430.1l3.4 3.4-3.4 3.4-3.4-3.4zM1275.2 421.2l3.4 3.4-3.4 3.4-3.4-3.4zM1282.1 421.2l3.4 3.4-3.4 3.4-3.4-3.4zM1289.0 413.1l3.4 3.4-3.4 3.4-3.4-3.4zM1295.9 390.6l3.4 3.4-3.4 3.4-3.4-3.4zM1302.8 387.9l3.4 3.4-3.4 3.4-3.4-3.4zM1309.7 387.9l3.4 3.4-3.4 3.4-3.4-3.4zM1316.6 390.6l3.4 3.4-3.4 3.4-3.4-3.4zM1323.5 362.8l3.4 3.4-3.4 3.4-3.4-3.4zM1330.4 355.8l3.4 3.4-3.4 3.4-3.4-3.4zM1337.3 348.0l3.4 3.4-3.4 3.4-3.4-3.4zM1344.2 347.6l3.4 3.4-3.4 3.4-3.4-3.4zM1351.1 342.2l3.4 3.4-3.4 3.4-3.4-3.4zM1358.0 332.0l3.4 3.4-3.4 3.4-3.4-3.4zM1364.9 324.6l3.4 3.4-3.4 3.4-3.4-3.4zM1371.8 323.9l3.4 3.4-3.4 3.4-3.4-3.4zM1378.7 312.9l3.4 3.4-3.4 3.4-3.4-3.4zM1385.6 308.1l3.4 3.4-3.4 3.4-3.4-3.4zM1392.5 301.3l3.4 3.4-3.4 3.4-3.4-3.4zM1399.4 285.0l3.4 3.4-3.4 3.4-3.4-3.4zM1406.3 284.3l3.4 3.4-3.4 3.4-3.4-3.4zM1413.2 281.6l3.4 3.4-3.4 3.4-3.4-3.4zM1420.1 284.3l3.4 3.4-3.4 3.4-3.4-3.4zM1427.0 274.8l3.4 3.4-3.4 3.4-3.4-3.4zM1433.9 251.0l3.4 3.4-3.4 3.4-3.4-3.4zM1440.8 253.7l3.4 3.4-3.4 3.4-3.4-3.4zM1447.7 251.4l3.4 3.4-3.4 3.4-3.4-3.4zM1454.6 244.6l3.4 3.4-3.4 3.4-3.4-3.4zM1461.5 192.5l3.4 3.4-3.4 3.4-3.4-3.4zM1468.4 180.3l3.4 3.4-3.4 3.4-3.4-3.4zM1475.3 163.0l3.4 3.4-3.4 3.4-3.4-3.4zM1482.2 162.2l3.4 3.4-3.4 3.4-3.4-3.4zM1489.1 155.8l3.4 3.4-3.4 3.4-3.4-3.4zM1496.0 159.9l3.4 3.4-3.4 3.4-3.4-3.4zM1502.9 159.5l3.4 3.4-3.4 3.4-3.4-3.4zM1509.8 159.9l3.4 3.4-3.4 3.4-3.4-3.4zM1516.7 154.9l3.4 3.4-3.4 3.4-3.4-3.4zM1523.6 150.8l3.4 3.4-3.4 3.4-3.4-3.4zM1530.5 139.1l3.4 3.4-3.4 3.4-3.4-3.4zM1537.4 142.2l3.4 3.4-3.4 3.4-3.4-3.4zM1544.3 146.7l3.4 3.4-3.4 3.4-3.4-3.4zM1551.2 144.9l3.4 3.4-3.4 3.4-3.4-3.4zM1558.1 141.3l3.4 3.4-3.4 3.4-3.4-3.4zM1565.0 144.3l3.4 3.4-3.4 3.4-3.4-3.4zM1571.9 139.9l3.4 3.4-3.4 3.4-3.4-3.4zM1578.8 131.0l3.4 3.4-3.4 3.4-3.4-3.4zM1585.7 134.9l3.4 3.4-3.4 3.4-3.4-3.4zM1592.6 132.6l3.4 3.4-3.4 3.4-3.4-3.4zM1599.5 111.0l3.4 3.4-3.4 3.4-3.4-3.4zM1606.4 103.5l3.4 3.4-3.4 3.4-3.4-3.4zM1613.3 95.1l3.4 3.4-3.4 3.4-3.4-3.4zM1620.2 91.8l3.4 3.4-3.4 3.4-3.4-3.4zM1627.1 86.8l3.4 3.4-3.4 3.4-3.4-3.4zM1634.0 56.5l3.4 3.4-3.4 3.4-3.4-3.4zM1640.9 51.0l3.4 3.4-3.4 3.4-3.4-3.4zM1647.8 51.8l3.4 3.4-3.4 3.4-3.4-3.4zM1654.7 56.5l3.4 3.4-3.4 3.4-3.4-3.4zM1661.6 51.8l3.4 3.4-3.4 3.4-3.4-3.4zM1668.5 45.6l3.4 3.4-3.4 3.4-3.4-3.4z" fill="#ff0000"/>
</g>
<path d="M1054.4 660.3L1668.5 49.0" stroke="#22129e" stroke-width="1" fill="none"/>
<path d="M1054.5 47V901 M1051 47.5H1676 M1675.5 47V901 M1051 900.5H1676 M1051 47.5H1054 M1051 100.5H1054 M1051 154.5H1054 M1051 207.5H1054 M1051 260.5H1054 M1051 314.5H1054 M1051 367.5H1054 M1051 420.5H1054 M1051 474.5H1054 M1051 527.5H1054 M1051 580.5H1054 M1051 634.5H1054 M1051 687.5H1054 M1051 697.5H1054 M1123.5 900V903 M1192.5 900V903 M1261.5 900V903 M1330.5 900V903 M1399.5 900V903 M1468.5 900V903 M1537.5 900V903 M1606.5 900V903 M1675.5 900V903" stroke="#000" stroke-width="1" fill="none" shape-rendering="crispEdges"/>
<g class="ax" text-anchor="end">
<text x="1049.6" y="51.6">28 000</text>
<text x="1049.6" y="104.6">26 000</text>
<text x="1049.6" y="158.6">24 000</text>
<text x="1049.6" y="211.6">22 000</text>
<text x="1049.6" y="264.6">20 000</text>
<text x="1049.6" y="318.6">18 000</text>
<text x="1049.6" y="371.6">16 000</text>
<text x="1049.6" y="424.6">14 000</text>
<text x="1049.6" y="478.6">12 000</text>
<text x="1049.6" y="531.6">10 000</text>
<text x="1049.6" y="584.6">8 000</text>
<text x="1049.6" y="638.6">6 000</text>
<text x="1049.6" y="684.4">4 000</text>
<text x="1049.7" y="709.3">1</text>
<text x="1049.4" y="905.3">0</text>
</g>
<g class="ax" text-anchor="middle">
<text x="1123.4" y="916">10</text>
<text x="1192.4" y="916">20</text>
<text x="1261.4" y="916">30</text>
<text x="1330.4" y="916">40</text>
<text x="1399.4" y="916">50</text>
<text x="1468.4" y="916">60</text>
<text x="1537.4" y="916">70</text>
<text x="1606.4" y="916">80</text>
<text x="1668.0" y="916">90</text>
</g>
<text x="1059.2" y="59.1" class="lg" style="fill:#e8101c">Equity</text>
<text x="1059.2" y="75.3" class="lg" style="fill:#0a12c8">Ideal</text>
<text x="1364.5" y="930.6" class="bd" text-anchor="middle">Trade</text>
<text transform="translate(1005.8,367.3) rotate(-90)" class="bd" text-anchor="middle">Equity (€)</text>
<text transform="translate(1005.8,794) rotate(-90)" class="bd" text-anchor="middle">Contracts</text>
<rect x="3" y="935" width="977" height="1.8" fill="#f3f7fc"/>
<rect x="985" y="935" width="931" height="1.8" fill="#f3f7fc"/>
<rect x="0" y="941.6" width="1916" height="1.6" fill="#fbfcfd"/>
<rect x="0" y="943" width="1916" height="14" fill="#f0f0f0"/>
<text x="-0.3" y="957.3" class="st" textLength="89.6" lengthAdjust="spacingAndGlyphs">For Help, press F1</text>
<path d="M1817.5 957V945.5H1845" stroke="#a0a0a0" stroke-width="1" fill="none"/>
<path d="M1845.5 946V957" stroke="#fdfdfd" stroke-width="1" fill="none"/>
<path d="M1848.5 957V945.5H1881" stroke="#a0a0a0" stroke-width="1" fill="none"/>
<path d="M1881.5 946V957" stroke="#fdfdfd" stroke-width="1" fill="none"/>
<path d="M1884.5 957V945.5H1920" stroke="#a0a0a0" stroke-width="1" fill="none"/>
<path d="M1920.5 946V957" stroke="#fdfdfd" stroke-width="1" fill="none"/>
<text x="1864.3" y="957.2" class="st" style="font-size:11.8px" text-anchor="middle">NUM</text>
</svg></body></html>
